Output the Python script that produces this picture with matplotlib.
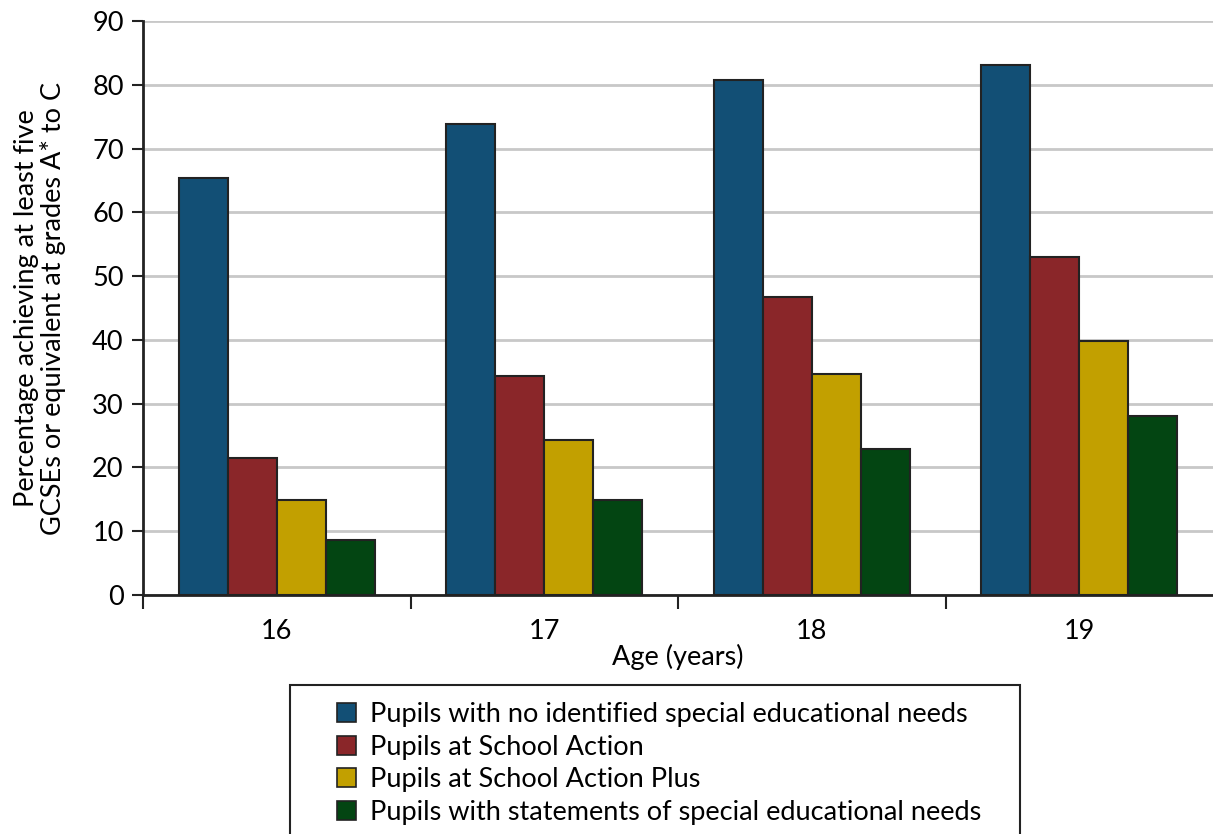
import numpy as np
import matplotlib.pyplot as plt
from matplotlib.ticker import FixedLocator
from matplotlib.patches import Rectangle

ages = ['16', '17', '18', '19']
no_sen = [65.4, 73.8, 80.7, 83.1]
school_action = [21.5, 34.3, 46.8, 53.0]
action_plus = [14.9, 24.3, 34.7, 39.9]
statements = [8.7, 14.9, 22.9, 28.1]

labels = ['Pupils with no identified special educational needs',
          'Pupils at School Action',
          'Pupils at School Action Plus',
          'Pupils with statements of special educational needs']
colors = ['#124F75', '#8A2629', '#C2A000', '#034512']

plt.rcParams['font.family'] = ['Lato', 'DejaVu Sans']
fs = 19.5

fig = plt.figure(figsize=(12.13, 8.34), dpi=100)
ax = fig.add_axes([0.118, 0.2866, 0.882, 0.688])

x = np.arange(len(ages))
w = 0.183
series = [no_sen, school_action, action_plus, statements]
for i, (vals, c, lab) in enumerate(zip(series, colors, labels)):
    ax.bar(x + (i - 1.5) * w, vals, w, color=c, edgecolor='#222222',
           linewidth=1.5, label=lab, zorder=3)

ax.set_xlim(-0.5, 3.5)
ax.set_ylim(0, 90)
ax.set_yticks(range(0, 91, 10))
ax.yaxis.grid(True, color='#c8c8c8', linewidth=2)
ax.set_axisbelow(True)

ax.set_xticks(x)
ax.set_xticklabels(ages)
ax.xaxis.set_minor_locator(FixedLocator([-0.5, 0.5, 1.5, 2.5]))
ax.tick_params(axis='x', which='major', length=0, pad=17, labelsize=fs)
ax.tick_params(axis='x', which='minor', length=10, width=1.5, color='#222222')
ax.tick_params(axis='y', length=8, width=1.5, color='#222222', labelsize=fs, pad=6)

for s in ['top', 'right']:
    ax.spines[s].set_visible(False)
for s in ['left', 'bottom']:
    ax.spines[s].set_linewidth(2)
    ax.spines[s].set_color('#222222')

ax.set_xlabel('Age (years)', fontsize=fs, labelpad=0)
ax.set_ylabel('Percentage achieving at least five\nGCSEs or equivalent at grades A* to C',
              fontsize=fs, labelpad=19, linespacing=1.05)

# legend box (bottom runs off the figure, as in the original)
fig.patches.append(Rectangle((290 / 1213, -0.05), 730 / 1213, 0.05 + 149 / 834,
                             transform=fig.transFigure, fill=False,
                             edgecolor='#222222', linewidth=1.5))

leg = fig.legend(loc='upper left', bbox_to_anchor=(0.278, 0.158), fontsize=fs,
                 frameon=False, handlelength=0.7, handleheight=0.7,
                 handletextpad=0.5, labelspacing=0.28, borderpad=0,
                 borderaxespad=0)
for h in leg.legend_handles:
    h.set_linewidth(1.2)

fig.savefig('out.png', dpi=100)
